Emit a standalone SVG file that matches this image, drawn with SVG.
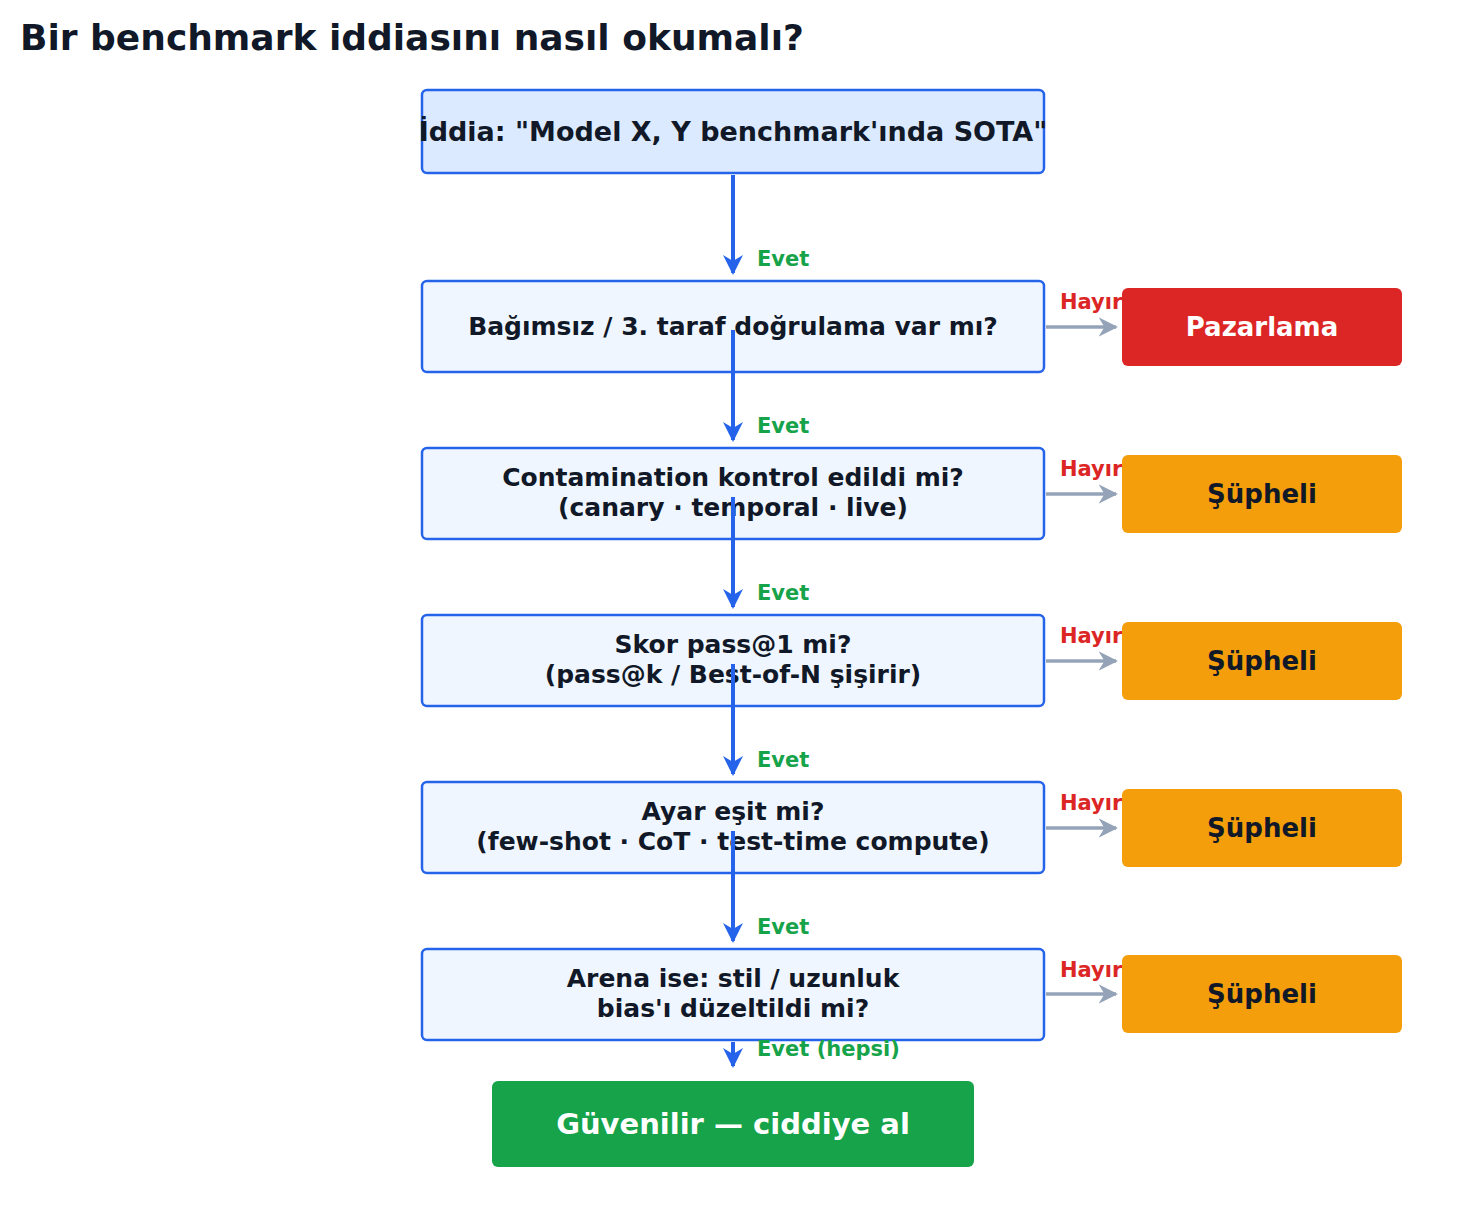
<svg xmlns="http://www.w3.org/2000/svg" width="1465" height="1226" viewBox="0 0 1465 1226">
<style>
text{font-family:"DejaVu Sans","Liberation Sans",sans-serif;font-weight:bold}
.q{fill:#eff6ff;stroke:#2563eb;stroke-width:2.5}
.qt{font-size:25px;fill:#111827;text-anchor:middle}
.rt{font-size:26px;text-anchor:middle}
.evet{font-size:21px;fill:#16a34a}
.hayir{font-size:21px;fill:#dc2626}
.b{stroke:#2563eb;stroke-width:4;fill:none}
.g{stroke:#94a3b8;stroke-width:3.5;fill:none}
</style>
<defs>
<marker id="ab" viewBox="0 0 10 10" refX="9" refY="5" markerWidth="5" markerHeight="5" orient="auto" markerUnits="strokeWidth"><path d="M0,0 L10,5 L0,10 L3,5 z" fill="#2563eb"/></marker>
<marker id="ag" viewBox="0 0 10 10" refX="9" refY="5" markerWidth="5.5" markerHeight="5.5" orient="auto" markerUnits="strokeWidth"><path d="M0,0 L10,5 L0,10 L3,5 z" fill="#94a3b8"/></marker>
</defs>
<text x="20" y="50" font-size="36" fill="#111827">Bir benchmark iddiasını nasıl okumalı?</text>
<g id="labels">
<text class="hayir" x="1060" y="309">Hayır</text>
<text class="hayir" x="1060" y="476">Hayır</text>
<text class="hayir" x="1060" y="643">Hayır</text>
<text class="hayir" x="1060" y="810">Hayır</text>
<text class="hayir" x="1060" y="977">Hayır</text>
</g>
<g id="n0"><rect class="q" x="422" y="90" width="622" height="83" rx="5" fill="#dbeafe" style="fill:#dbeafe"/><text class="qt" x="733" y="141" font-size="27" style="font-size:27px">İddia: "Model X, Y benchmark'ında SOTA"</text></g>
<g id="n1"><rect class="q" x="422" y="281" width="622" height="91" rx="5"/><text class="qt" x="733" y="335">Bağımsız / 3. taraf doğrulama var mı?</text></g>
<g id="n2"><rect class="q" x="422" y="448" width="622" height="91" rx="5"/><text class="qt" x="733" y="486">Contamination kontrol edildi mi?</text><text class="qt" x="733" y="516">(canary · temporal · live)</text></g>
<g id="n3"><rect class="q" x="422" y="615" width="622" height="91" rx="5"/><text class="qt" x="733" y="653">Skor pass@1 mi?</text><text class="qt" x="733" y="683">(pass@k / Best-of-N şişirir)</text></g>
<g id="n4"><rect class="q" x="422" y="782" width="622" height="91" rx="5"/><text class="qt" x="733" y="820">Ayar eşit mi?</text><text class="qt" x="733" y="850">(few-shot · CoT · test-time compute)</text></g>
<g id="n5"><rect class="q" x="422" y="949" width="622" height="91" rx="5"/><text class="qt" x="733" y="987">Arena ise: stil / uzunluk</text><text class="qt" x="733" y="1017">bias'ı düzeltildi mi?</text></g>
<g id="ok"><rect x="492" y="1081" width="482" height="86" rx="6" fill="#16a34a"/><text class="rt" x="733" y="1134" fill="#fff" style="font-size:29px">Güvenilir — ciddiye al</text></g>
<g id="r1"><rect x="1122" y="288" width="280" height="78" rx="6" fill="#dc2626"/><text class="rt" x="1262" y="336" fill="#fff">Pazarlama</text></g>
<g id="r2"><rect x="1122" y="455" width="280" height="78" rx="6" fill="#f59e0b"/><text class="rt" x="1262" y="503" fill="#111827">Şüpheli</text></g>
<g id="r3"><rect x="1122" y="622" width="280" height="78" rx="6" fill="#f59e0b"/><text class="rt" x="1262" y="670" fill="#111827">Şüpheli</text></g>
<g id="r4"><rect x="1122" y="789" width="280" height="78" rx="6" fill="#f59e0b"/><text class="rt" x="1262" y="837" fill="#111827">Şüpheli</text></g>
<g id="r5"><rect x="1122" y="955" width="280" height="78" rx="6" fill="#f59e0b"/><text class="rt" x="1262" y="1003" fill="#111827">Şüpheli</text></g>
<g id="connectors">
<path class="b" marker-end="url(#ab)" d="M733,175 V273"/>
<path class="b" marker-end="url(#ab)" d="M733,330 V440"/>
<path class="b" marker-end="url(#ab)" d="M733,497 V607"/>
<path class="b" marker-end="url(#ab)" d="M733,664 V774"/>
<path class="b" marker-end="url(#ab)" d="M733,831 V941"/>
<path class="b" marker-end="url(#ab)" d="M733,1042 V1066"/>
<path class="g" marker-end="url(#ag)" d="M1046,327 H1116"/>
<path class="g" marker-end="url(#ag)" d="M1046,494 H1116"/>
<path class="g" marker-end="url(#ag)" d="M1046,661 H1116"/>
<path class="g" marker-end="url(#ag)" d="M1046,828 H1116"/>
<path class="g" marker-end="url(#ag)" d="M1046,994 H1116"/>
<text class="evet" x="757" y="266">Evet</text>
<text class="evet" x="757" y="433">Evet</text>
<text class="evet" x="757" y="600">Evet</text>
<text class="evet" x="757" y="767">Evet</text>
<text class="evet" x="757" y="934">Evet</text>
<text class="evet" x="757" y="1056">Evet (hepsi)</text>
</g>
</svg>
